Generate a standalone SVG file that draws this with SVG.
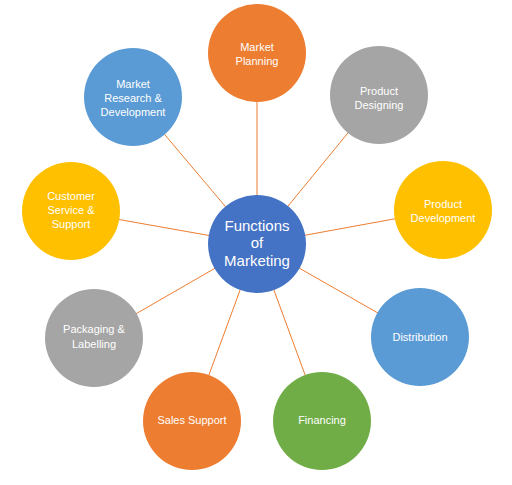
<svg xmlns="http://www.w3.org/2000/svg" width="512" height="485" viewBox="0 0 512 485">
<style>
.lbl{font-family:"Liberation Sans",Arial,sans-serif;font-size:11px;fill:#fff;text-anchor:middle}
.ctr{font-family:"Liberation Sans",Arial,sans-serif;font-size:15px;fill:#fff;text-anchor:middle}
.con line{stroke:#ED7D31;stroke-width:1}
.orange{fill:#ED7D31}.gray{fill:#A5A5A5}.yellow{fill:#FFC000}.blue{fill:#5B9BD5}.green{fill:#70AD47}.dblue{fill:#4472C4}
</style>
<rect width="512" height="485" fill="#fff"/>
<g id="connectors" class="con">
<line x1="257" y1="244" x2="257" y2="53"/>
<line x1="257" y1="244" x2="379" y2="95"/>
<line x1="257" y1="244" x2="443" y2="210"/>
<line x1="257" y1="244" x2="420" y2="337"/>
<line x1="257" y1="244" x2="322" y2="421"/>
<line x1="257" y1="244" x2="192" y2="421"/>
<line x1="257" y1="244" x2="94" y2="338"/>
<line x1="257" y1="244" x2="71" y2="211"/>
<line x1="257" y1="244" x2="133" y2="97"/>
</g>
<g id="market-planning"><circle class="orange" cx="257" cy="53" r="49"/><text class="lbl" x="257" y="51">Market</text><text class="lbl" x="257" y="65">Planning</text></g>
<g id="product-designing"><circle class="gray" cx="379" cy="95" r="49"/><text class="lbl" x="379" y="95">Product</text><text class="lbl" x="379" y="109">Designing</text></g>
<g id="product-development"><circle class="yellow" cx="443" cy="210" r="49"/><text class="lbl" x="443" y="208">Product</text><text class="lbl" x="443" y="222">Development</text></g>
<g id="distribution"><circle class="blue" cx="420" cy="337" r="49"/><text class="lbl" x="420" y="341">Distribution</text></g>
<g id="financing"><circle class="green" cx="322" cy="421" r="49"/><text class="lbl" x="322" y="424">Financing</text></g>
<g id="sales-support"><circle class="orange" cx="192" cy="421" r="49"/><text class="lbl" x="192" y="424">Sales Support</text></g>
<g id="packaging"><circle class="gray" cx="94" cy="338" r="49"/><text class="lbl" x="94" y="333">Packaging &amp;</text><text class="lbl" x="94" y="348">Labelling</text></g>
<g id="customer-service"><circle class="yellow" cx="71" cy="211" r="49"/><text class="lbl" x="71" y="200">Customer</text><text class="lbl" x="71" y="214">Service &amp;</text><text class="lbl" x="71" y="228">Support</text></g>
<g id="market-research"><circle class="blue" cx="133" cy="97" r="49"/><text class="lbl" x="133" y="88">Market</text><text class="lbl" x="133" y="102">Research &amp;</text><text class="lbl" x="133" y="116">Development</text></g>
<g id="center"><circle class="dblue" cx="257" cy="244" r="49"/><text class="ctr" x="257" y="231">Functions</text><text class="ctr" x="257" y="248">of</text><text class="ctr" x="257" y="266">Marketing</text></g>
</svg>
